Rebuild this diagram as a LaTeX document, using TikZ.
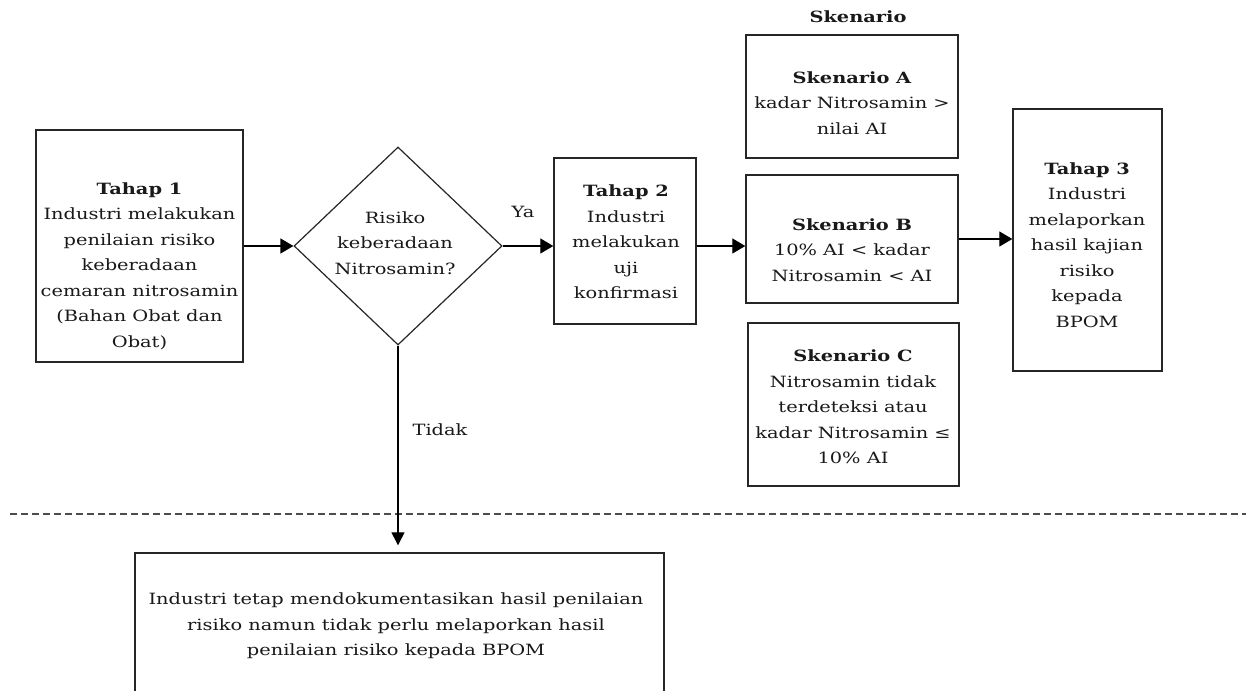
\documentclass[tikz,border=0pt]{standalone}
\usepackage{fontspec}
\setmainfont{DejaVu Serif}[FakeStretch=1.25]
\usetikzlibrary{shapes.geometric,arrows.meta}
\begin{document}
\begin{tikzpicture}[x=1pt,y=-1pt,
  box/.style={draw=black!85, line width=1.4pt, inner sep=0pt, fill=white},
  txt/.style={align=center, inner sep=0pt, text=black!90, font=\fontsize{15.5}{25.5}\selectfont},
  txtb/.style={txt, font=\bfseries\fontsize{15.5}{25.5}\selectfont},
  arr/.style={draw=black, line width=1.3pt, -{Triangle[length=13pt,width=15pt]}},
  arrd/.style={draw=black, line width=1.3pt, -{Triangle[length=13pt,width=13pt]}},
  sep/.style={draw=black!70, line width=1.3pt, dash pattern=on 7pt off 4pt},
]
\useasboundingbox (0,0) rectangle (1246,690);
\fill[white] (0,0) rectangle (1246,690);

% separator
\coordinate (dl) at (10,514);
\coordinate (dr) at (1246,514);
\draw[sep] (dl) -- (dr);

\node[txtb] (ttl) at (858,17) {Skenario};

% Tahap 1
\node[box, minimum width=207pt, minimum height=232pt] (t1) at (139.5,246) {};
\node[txt] (t1t) at (139.5,266) {\textbf{Tahap 1}\\Industri melakukan\\penilaian risiko\\keberadaan\\cemaran nitrosamin\\(Bahan Obat dan\\Obat)};

% decision
\node[box, diamond, line width=1.2pt, minimum width=208pt, minimum height=198pt] (dia) at (398,246) {};
\node[txt] (diat) at (395,243) {Risiko\\keberadaan\\Nitrosamin?};
\node[txt] (ya) at (523,212) {Ya};

% Tahap 2
\node[box, minimum width=142pt, minimum height=166pt] (t2) at (625,241) {};
\node[txt] (t2t) at (626,242) {\textbf{Tahap 2}\\Industri\\melakukan\\uji\\konfirmasi};

% Skenario boxes
\node[box, minimum width=212pt, minimum height=123pt] (sa) at (852,96.5) {};
\node[txt] (sat) at (852,103) {\textbf{Skenario A}\\kadar Nitrosamin >\\nilai AI};
\node[box, minimum width=212pt, minimum height=128pt] (sb) at (852,239) {};
\node[txt] (sbt) at (852,250) {\textbf{Skenario B}\\10\% AI < kadar\\Nitrosamin < AI};
\node[box, minimum width=211pt, minimum height=163pt] (sc) at (853.5,404.5) {};
\node[txt] (sct) at (853,407) {\textbf{Skenario C}\\Nitrosamin tidak\\terdeteksi atau\\kadar Nitrosamin ≤\\10\% AI};

% Tahap 3
\node[box, minimum width=149pt, minimum height=262pt] (t3) at (1087.5,240) {};
\node[txt] (t3t) at (1087,245) {\textbf{Tahap 3}\\Industri\\melaporkan\\hasil kajian\\risiko\\kepada\\BPOM};

% bottom box
\node[box, minimum width=529pt, minimum height=207pt] (bot) at (399.5,656.5) {};
\node[txt] (bott) at (396,626) {Industri tetap mendokumentasikan hasil penilaian\\risiko namun tidak perlu melaporkan hasil\\penilaian risiko kepada BPOM};

\node[txt] (tdk) at (440,430) {Tidak};

% connectors
\draw[arr] (t1.east) -- (dia.west);
\draw[arr] (dia.east) -- (dia.east -| t2.west);
\draw[arr] (dia.east -| t2.east) -- (dia.east -| sb.west);
\draw[arr] (sb.east) -- (sb.east -| t3.west);
\draw[arrd, shorten >=7pt] (dia.south) -- (dia.south |- bot.north);
\end{tikzpicture}
\end{document}
